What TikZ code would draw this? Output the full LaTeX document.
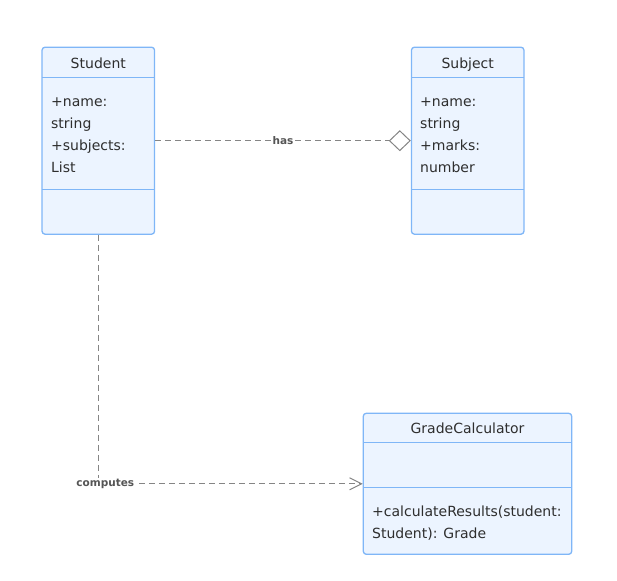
\documentclass[tikz,border=0pt]{standalone}
\usepackage{fontspec}
\setmainfont{DejaVu Sans}
\usetikzlibrary{arrows.meta}
\definecolor{boxfill}{HTML}{ECF4FF}
\definecolor{boxline}{HTML}{7FB6F7}
\definecolor{txt}{HTML}{2E2E2E}
\definecolor{edge}{HTML}{858585}
\definecolor{lbltxt}{HTML}{555555}
\tikzset{
  classbox/.style={draw=boxline, fill=boxfill, line width=1.3pt, rounded corners=3pt, inner sep=0pt},
  divider/.style={draw=boxline, line width=1.2pt},
  title/.style={text=txt, font=\fontsize{14}{16}\selectfont, anchor=base, inner sep=0pt},
  member/.style={text=txt, font=\fontsize{14}{16}\selectfont, anchor=base west, inner sep=0pt},
  dep/.style={draw=edge, line width=1pt, dash pattern=on 6pt off 4pt},
  lbl/.style={text=lbltxt, font=\bfseries\fontsize{10.5}{12}\selectfont, fill=white, inner sep=0.6pt},
}
\begin{document}
\begin{tikzpicture}[x=1pt,y=-1pt]
\useasboundingbox (0,0) rectangle (617,580);
% Student
\node[classbox, minimum width=112.5pt, minimum height=187pt] (student) at (98.3,140.7) {};
\draw[divider] (42.05,77.7) -- (154.55,77.7);
\draw[divider] (42.05,189.7) -- (154.55,189.7);
\node[title] (studentT) at (98.3,68.3) {Student};
\node[member] (s1) at (51,106.7) {+name:};
\node[member] (s2) at (51,128.3) {string};
\node[member] (s3) at (51,150.6) {+subjects:};
\node[member] (s4) at (51,172.9) {List};
% Subject
\node[classbox, minimum width=112.5pt, minimum height=187pt] (subject) at (467.7,140.7) {};
\draw[divider] (411.45,77.7) -- (523.95,77.7);
\draw[divider] (411.45,189.7) -- (523.95,189.7);
\node[title] (subjectT) at (467.7,68.3) {Subject};
\node[member] (j1) at (420,106.7) {+name:};
\node[member] (j2) at (420,128.3) {string};
\node[member] (j3) at (420,150.6) {+marks:};
\node[member] (j4) at (420,172.9) {number};
% GradeCalculator
\node[classbox, minimum width=208.4pt, minimum height=141pt] (calc) at (467.5,483.8) {};
\draw[divider] (363.3,442.7) -- (571.7,442.7);
\draw[divider] (363.3,487.7) -- (571.7,487.7);
\node[title] (calcT) at (467.5,433.7) {GradeCalculator};
\node[member] (c1) at (372,516) {+calculateResults(student:};
\node[member] (c2) at (372,538.5) {Student): Grade};
% edges
\draw[dep, -{Diamond[open, length=22pt, width=21pt, line width=1pt, sep=0pt]}] (student.east) -- node[lbl] {has} (subject.west);
\draw[dep, -{Straight Barb[length=12pt, width=12pt, line width=1pt]}] (student.south) |- node[lbl, pos=0.5, xshift=7pt] {computes} (calc.west);
\end{tikzpicture}
\end{document}
